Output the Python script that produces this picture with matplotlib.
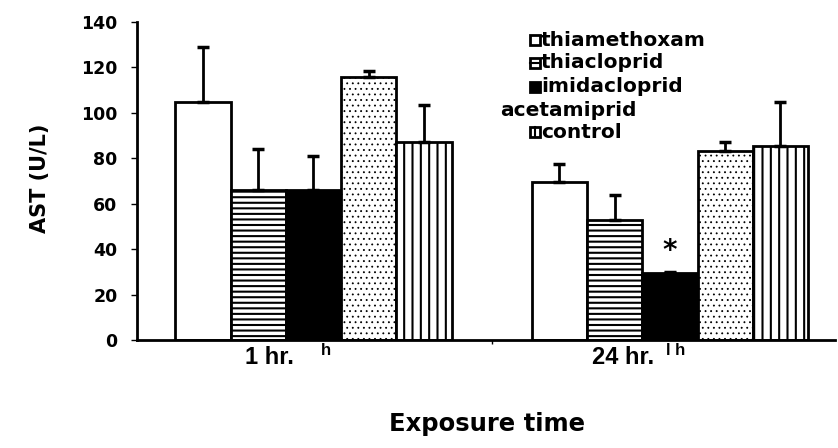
import matplotlib
matplotlib.use('agg')
import matplotlib.pyplot as plt
import numpy as np
from matplotlib.patches import Rectangle
from matplotlib.lines import Line2D

plt.rc('font', family='DejaVu Sans', weight='bold')
plt.rcParams['hatch.linewidth'] = 1.5

groups = ['1 hr.', '24 hr.']
series = ['thiamethoxam', 'thiacloprid', 'imidacloprid', 'acetamiprid', 'control']
means = {
    'thiamethoxam': [105, 69.5],
    'thiacloprid': [66, 53],
    'imidacloprid': [66, 29.5],
    'acetamiprid': [116, 83],
    'control': [87, 85.5],
}
errs = {
    'thiamethoxam': [24, 8],
    'thiacloprid': [18, 11],
    'imidacloprid': [15, 0.5],
    'acetamiprid': [2.5, 4],
    'control': [16.5, 19.5],
}
faces = ['white', 'white', 'black', 'white', 'white']
hatches = [None, '---', None, '...', '||']

fig = plt.figure(figsize=(8.38, 4.48), dpi=100)
ax = fig.add_axes([137/838, 1-340/448, (835-137)/838, (340-22)/448])

w = 0.155
x = np.arange(len(groups))
for i, s in enumerate(series):
    pos = x + (i - 2) * w
    bars = ax.bar(pos, means[s], w, color=faces[i], edgecolor='black', linewidth=2,
                  hatch=hatches[i], zorder=2)
    if s == 'acetamiprid':
        for b in bars:
            try:
                b.set_hatch_linewidth(0.6)
            except AttributeError:
                pass
    ax.errorbar(pos, means[s], yerr=[np.zeros(2), errs[s]], fmt='none',
                ecolor='black', elinewidth=2, capsize=4, capthick=2.5, zorder=3)

ax.set_xlim(-0.495, 1.463)
ax.set_ylim(0, 140)
ax.set_yticks(np.arange(0, 141, 20))
ax.tick_params(axis='y', labelsize=12.5, length=4, width=1, pad=10)
ax.set_xticks([0.5])
ax.set_xticklabels([''])
ax.tick_params(axis='x', length=3, width=1)
for sp in ['top', 'right']:
    ax.spines[sp].set_visible(False)
ax.spines['left'].set_linewidth(2)
ax.spines['bottom'].set_linewidth(2)

fig.text(40/838, 1-178/448, 'AST (U/L)', fontsize=15, fontweight='bold',
         rotation=90, va='center', ha='center')

# group labels
fig.text(245/838, 1-357/448, '1 hr.', fontsize=17, va='center', ha='left',
         family='Liberation Sans', fontweight='bold')
fig.text(321/838, 1-350/448, 'h', fontsize=12, va='center', ha='left',
         family='Liberation Sans', fontweight='bold')
fig.text(592/838, 1-357/448, '24 hr.', fontsize=17, va='center', ha='left',
         family='Liberation Sans', fontweight='bold')
fig.text(666/838, 1-350/448, 'l h', fontsize=12, va='center', ha='left',
         family='Liberation Sans', fontweight='bold')
fig.text(487/838, 1-424/448, 'Exposure time', fontsize=17.5, va='center', ha='center')

# star above imidacloprid 24 hr
ax.text(1, 33, '*', fontsize=20, ha='center', va='bottom')

# legend drawn by hand
leg_y = [40, 63, 87, 110, 132]
bx, bs = 530, 10
for i, s in enumerate(series):
    yy = 1 - leg_y[i] / 448
    if s == 'acetamiprid':
        fig.text(500/838, yy, s, fontsize=14.5, va='center', ha='left')
        continue
    x0, y0 = bx/838, yy - bs/2/448
    fig.patches.append(Rectangle((x0, y0), bs/838, bs/448,
                                 transform=fig.transFigure, facecolor=faces[i],
                                 edgecolor='black', linewidth=2))
    if s == 'thiacloprid':
        fig.lines.append(Line2D([x0, x0 + bs/838], [yy, yy], color='black', lw=1.5,
                                transform=fig.transFigure))
    if s == 'control':
        fig.lines.append(Line2D([x0 + bs/2/838]*2, [y0, y0 + bs/448], color='black', lw=1.5,
                                transform=fig.transFigure))
    fig.text(541/838, yy, s, fontsize=14.5, va='center', ha='left')

fig.savefig('out.png', dpi=100)
